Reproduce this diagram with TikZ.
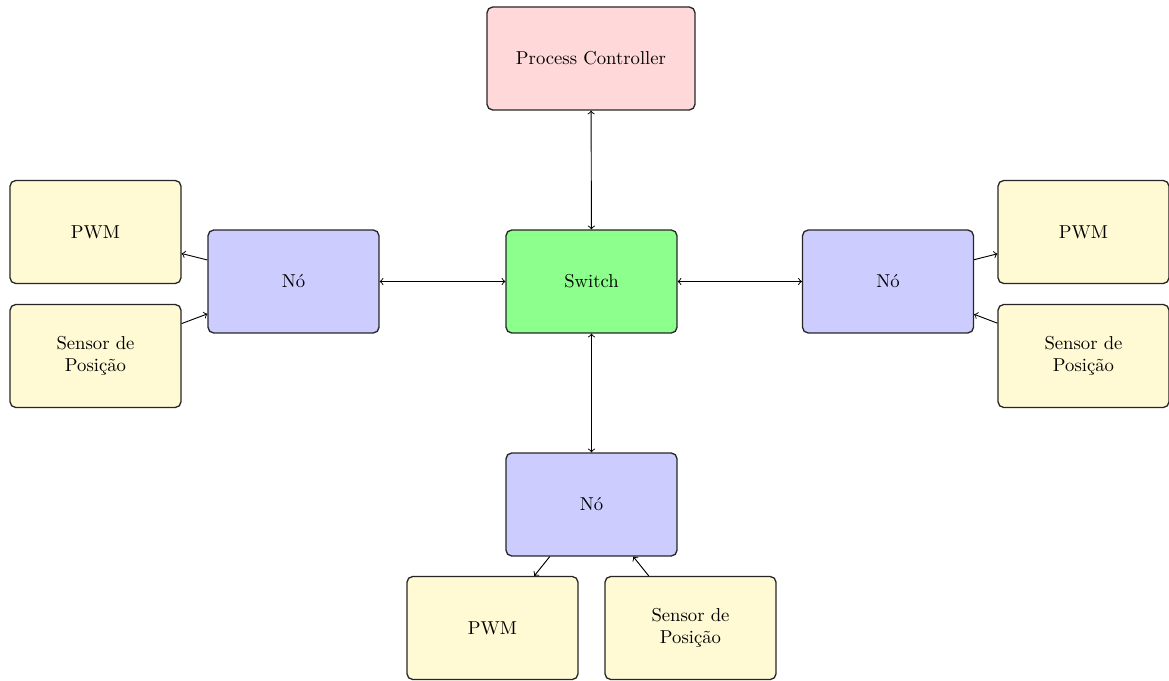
\documentclass[tikz,border=0pt]{standalone}
\usepackage{fontspec}
\definecolor{iofill}{RGB}{255,250,212}
\begin{document}
\begin{tikzpicture}[x=0.5353pt,y=-0.5353pt,
  box/.style={draw=black!85, line width=0.7pt, rounded corners=3pt, minimum width=91.5pt, minimum height=55.1pt, align=center, inner sep=2pt},
  pcbox/.style={box, fill=red!15, minimum width=111.3pt},
  swbox/.style={box, fill=green!45},
  nobox/.style={box, fill=blue!20},
  iobox/.style={box, fill=iofill},
  link/.style={line width=0.5pt}
]
\useasboundingbox (0,0) rectangle (1169,681);
\node[pcbox] (pc) at (591,58.5) {Process Controller};
\node[swbox] (sw) at (591.5,281.5) {Switch};
\node[nobox] (nl) at (293.5,281.5) {Nó};
\node[nobox] (nr) at (888,281.5) {Nó};
\node[nobox] (nb) at (591.5,504.5) {Nó};
\node[iobox] (pl) at (95.5,232) {PWM};
\node[iobox] (sl) at (95.5,356) {Sensor de\\Posição};
\node[iobox] (pr) at (1083.5,232) {PWM};
\node[iobox] (sr) at (1083.5,356) {Sensor de\\Posição};
\node[iobox] (pb) at (492.5,628) {PWM};
\node[iobox] (sb) at (690.5,628) {Sensor de\\Posição};
\draw[link,<->] (pc) -- (sw);
\draw[link,<->] (sw) -- (nl);
\draw[link,<->] (sw) -- (nr);
\draw[link,<->] (sw) -- (nb);
\draw[link,->] (nl) -- (pl);
\draw[link,->] (sl) -- (nl);
\draw[link,->] (nr) -- (pr);
\draw[link,->] (sr) -- (nr);
\draw[link,->] (nb) -- (pb);
\draw[link,->] (sb) -- (nb);
\end{tikzpicture}
\end{document}
